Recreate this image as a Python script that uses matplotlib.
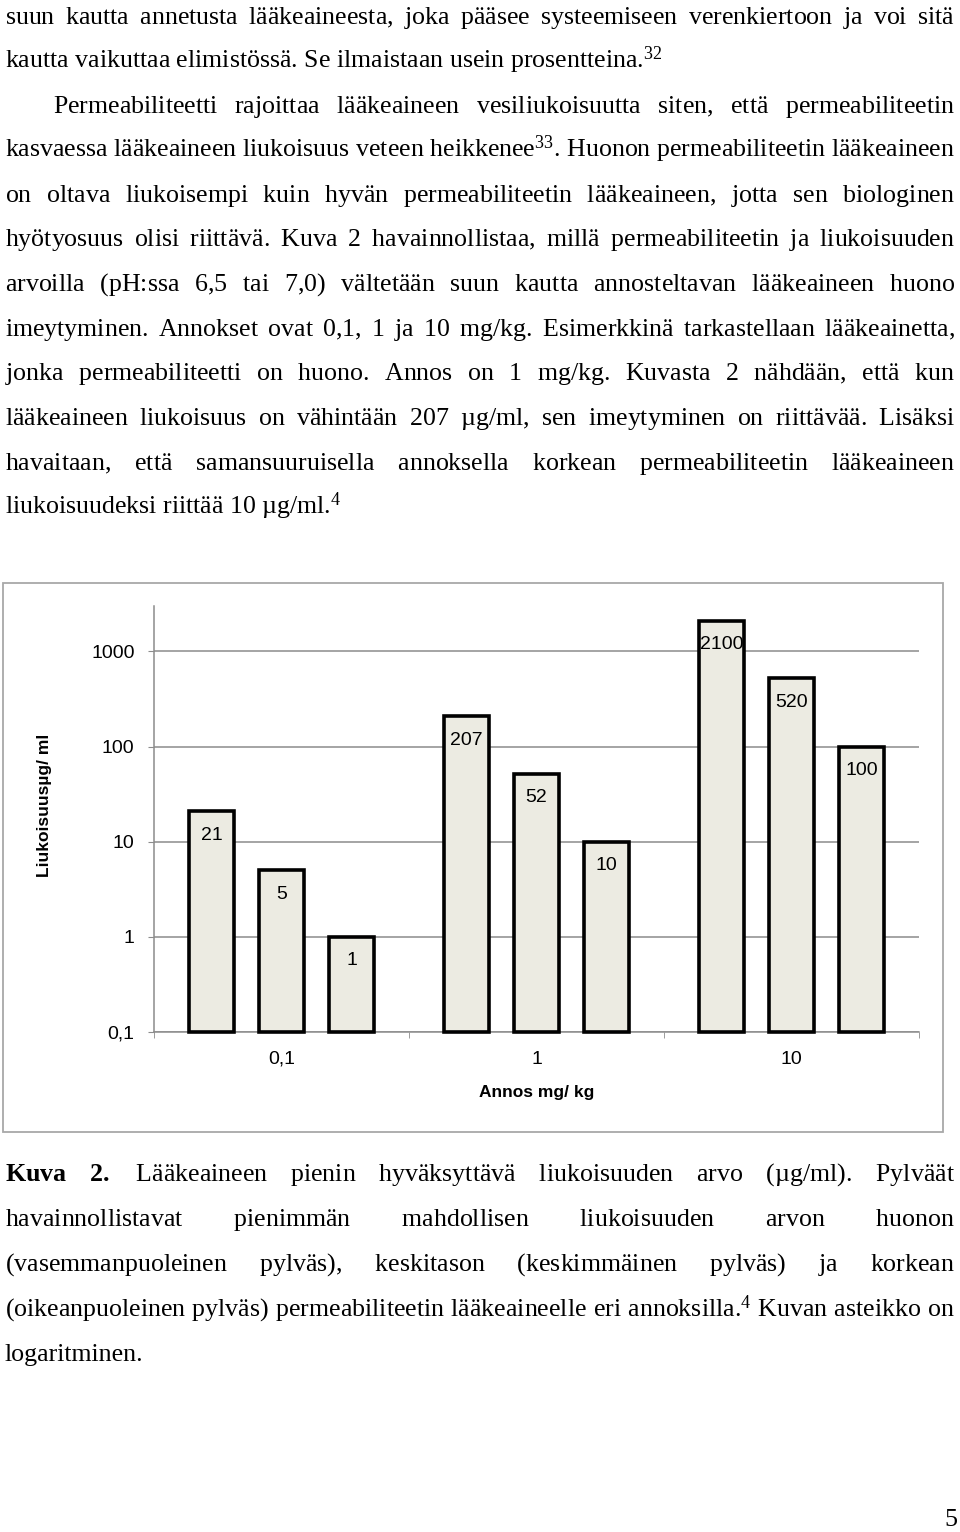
import numpy as np
import matplotlib
matplotlib.use('Agg')
import matplotlib.pyplot as plt
from matplotlib.patches import Rectangle

W, H = 960, 1532

# chart data
doses = ['0,1', '1', '10']
poor_perm = [21, 207, 2100]     # vasemmanpuoleinen pylväs
mid_perm = [5, 52, 520]         # keskimmäinen pylväs
high_perm = [1, 10, 100]        # oikeanpuoleinen pylväs
ytick_vals = [0.1, 1, 10, 100, 1000]
ytick_labels = ['0,1', '1', '10', '100', '1000']
ylabel = 'Liukoisuusµg/ ml'
xlabel = 'Annos mg/ kg'

# page text, one entry per printed line ('*' = bold word)
body_lines = [
    'suun kautta annetusta lääkeaineesta, joka pääsee systeemiseen verenkiertoon ja voi sitä',
    'kautta vaikuttaa elimistössä. Se ilmaistaan usein prosentteina.$^{32}$',
    'Permeabiliteetti rajoittaa lääkeaineen vesiliukoisuutta siten, että permeabiliteetin',
    'kasvaessa lääkeaineen liukoisuus veteen heikkenee$^{33}$. Huonon permeabiliteetin lääkeaineen',
    'on oltava liukoisempi kuin hyvän permeabiliteetin lääkeaineen, jotta sen biologinen',
    'hyötyosuus olisi riittävä. Kuva 2 havainnollistaa, millä permeabiliteetin ja liukoisuuden',
    'arvoilla (pH:ssa 6,5 tai 7,0) vältetään suun kautta annosteltavan lääkeaineen huono',
    'imeytyminen. Annokset ovat 0,1, 1 ja 10 mg/kg. Esimerkkinä tarkastellaan lääkeainetta,',
    'jonka permeabiliteetti on huono. Annos on 1 mg/kg. Kuvasta 2 nähdään, että kun',
    'lääkeaineen liukoisuus on vähintään 207 µg/ml, sen imeytyminen on riittävää. Lisäksi',
    'havaitaan, että samansuuruisella annoksella korkean permeabiliteetin lääkeaineen',
    'liukoisuudeksi riittää 10 µg/ml.$^{4}$',
]
body_last = [1, 11]      # paragraph ends, not justified
body_indent = [2]

caption_lines = [
    '*Kuva *2. Lääkeaineen pienin hyväksyttävä liukoisuuden arvo (µg/ml). Pylväät',
    'havainnollistavat pienimmän mahdollisen liukoisuuden arvon huonon',
    '(vasemmanpuoleinen pylväs), keskitason (keskimmäinen pylväs) ja korkean',
    '(oikeanpuoleinen pylväs) permeabiliteetin lääkeaineelle eri annoksilla.$^{4}$ Kuvan asteikko on',
    'logaritminen.',
]
caption_last = [4]

plt.rcParams['mathtext.fontset'] = 'custom'
plt.rcParams['mathtext.rm'] = 'Liberation Serif'
plt.rcParams['mathtext.it'] = 'Liberation Serif:italic'
plt.rcParams['mathtext.bf'] = 'Liberation Serif:bold'

SERIF = 'Liberation Serif'
SANS = 'Liberation Sans'
TXT = 18.6

fig = plt.figure(figsize=(W / 100, H / 100), dpi=100)
renderer = fig.canvas.get_renderer()


def build(words, gap=None):
    parts = [r'$\mathbf{%s}$' % w[1:] if w.startswith('*') else w for w in words]
    if gap is None:
        return ' '.join(parts)
    return (r'$\hspace{%.4f}$' % gap).join(parts).replace('$$', '')


def put_line(line, base_y, x0=5, x1=955, justify=True):
    # one text object per line; justified lines get stretched word gaps
    words = line.split(' ')
    t = fig.text(x0 / W, 1 - round(base_y) / H, build(words), fontsize=TXT,
                 family=SERIF, ha='left', va='baseline')
    if not justify or len(words) < 2:
        return
    n = len(words) - 1
    t.set_text(build(words, 0.0))
    w0 = t.get_window_extent(renderer).width
    t.set_text(build(words, 1.0))
    unit = (t.get_window_extent(renderer).width - w0) / n
    t.set_text(build(words, (x1 - x0 - w0) / n / unit))


for i, line in enumerate(body_lines):
    put_line(line, 23.5 + 44.6 * i, x0=53 if i in body_indent else 5,
             justify=i not in body_last)

for i, line in enumerate(caption_lines):
    put_line(line, 1181 + 45 * i, justify=i not in caption_last)

fig.text(957 / W, 1 - 1526 / H, '5', fontsize=TXT, family=SERIF, ha='right', va='baseline')

# chart frame
fig.add_artist(Rectangle((3 / W, 1 - 1132 / H), 940 / W, 549 / H, transform=fig.transFigure,
                         fill=False, edgecolor='#a8a8a8', lw=1.3))

ax = fig.add_axes([154 / W, 1 - 1032 / H, 765 / W, 426 / H])
ax.set_yscale('log')
x = np.arange(len(doses))
offsets = [-0.275, 0.0, 0.275]
for off, vals in zip(offsets, [poor_perm, mid_perm, high_perm]):
    vals = np.array(vals, dtype=float)
    ax.bar(x + off, vals - 0.1, bottom=0.1, width=0.175, color='#ecebe2',
           edgecolor='black', lw=2.6, clip_on=False, zorder=3)
    for xi, v in zip(x + off, vals):
        ax.annotate(f'{v:g}', (xi, v), xytext=(0, -17.3), textcoords='offset points',
                    ha='center', va='center', fontsize=14, family=SANS, zorder=4)

ax.set_xlim(-0.5, 2.5)
ax.set_ylim(0.1, 3000)
ax.set_yticks(ytick_vals)
ax.set_yticklabels(ytick_labels)
ax.yaxis.set_minor_locator(matplotlib.ticker.NullLocator())
ax.set_xticks(x)
ax.set_xticklabels(doses)
ax.set_xticks(np.arange(len(doses) + 1) - 0.5, minor=True)

grid_c = '#8c8c8c'
ax.yaxis.grid(True, color=grid_c, lw=1.1, zorder=0)
ax.set_axisbelow(True)
for s in ['top', 'right']:
    ax.spines[s].set_visible(False)
for s in ['left', 'bottom']:
    ax.spines[s].set_color(grid_c)
    ax.spines[s].set_linewidth(1.1)

ax.tick_params(axis='y', which='major', length=4, color=grid_c, pad=10, labelsize=14)
ax.tick_params(axis='x', which='major', length=0, pad=13.5, labelsize=14)
ax.tick_params(axis='x', which='minor', length=4, color=grid_c)
for lbl in ax.get_xticklabels() + ax.get_yticklabels():
    lbl.set_family(SANS)

fig.text(45 / W, 1 - 805 / H, ylabel, rotation=90, fontsize=12.5, weight='bold',
         family=SANS, ha='center', va='center')
fig.text(537 / W, 1 - 1093 / H, xlabel, fontsize=12.5, weight='bold',
         family=SANS, ha='center', va='center')

fig.savefig('out.png', dpi=100)
